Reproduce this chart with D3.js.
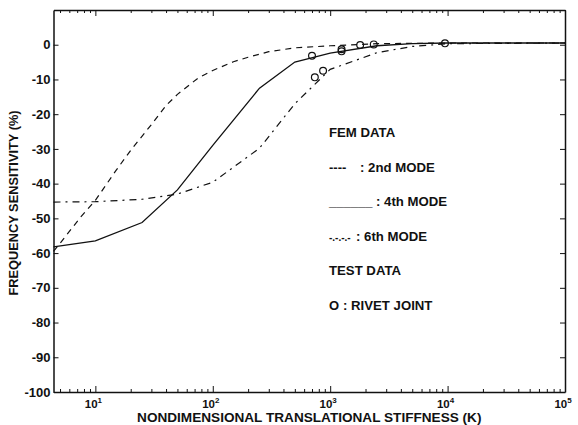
<!DOCTYPE html>
<html>
<head>
<meta charset="utf-8">
<script src="https://cdn.jsdelivr.net/npm/d3@7"></script>
<style>
  body { margin: 0; background: #fff; }
  svg text { font-family: "Liberation Sans", Arial, sans-serif; font-weight: bold; fill: #111; }
  .axis path, .axis line { stroke: #111; }
</style>
</head>
<body>
<div id="chart"></div>
<script>
// ---- data ----
// stiffness values (K) at which the FEM curves were read
const kMode2 = [4.4, 5, 7.5, 10, 15, 20, 30, 40, 50, 75, 100, 150, 200, 300, 500, 1000, 2500, 10000, 100000];
const mode2 = [-59.5, -57.2, -49.6, -44.8, -36.2, -30.4, -23, -17.5, -14.3, -9.6, -7.4, -4.9, -3.6, -2.0, -0.9, -0.3, 0.3, 0.5, 0.5];

const kFem = [4.4, 10, 25, 50, 100, 250, 500, 1000, 2500, 5000, 10000, 100000];
const mode4 = [-58.2, -56.5, -51.2, -41.8, -29, -12.5, -5, -2.4, -0.3, 0.3, 0.5, 0.5];
const mode6 = [-45.3, -45.2, -44.5, -43, -39.6, -29.8, -17, -7.1, -2.3, -0.5, 0.3, 0.5];

// rivet joint test data
const kTest = [700, 740, 870, 1250, 1250, 1800, 2350, 9500];
const rivet = [-3.2, -9.4, -7.5, -1.3, -1.9, -0.1, 0.1, 0.4];

const yTicks = [0, -10, -20, -30, -40, -50, -60, -70, -80, -90, -100];
const xMajor = [10, 100, 1000, 10000, 100000];
const xExp = ["1", "2", "3", "4", "5"];

// legend is a block of text: symbol part and label part
const legendSymbols = ["", "----", "______", "-.-.-.-", "", "O"];
const legendLabels = ["FEM DATA", ": 2nd MODE", ": 4th MODE", ": 6th MODE", "TEST DATA", ": RIVET JOINT"];
const legendLabelX = [329, 360, 376, 356, 329, 343];

// ---- layout ----
const W = 578, H = 425;
const mLeft = 53.5, mRight = 565, mTop = 10, mBottom = 392;
const ink = "#111";

const svg = d3.select("#chart").append("svg")
  .attr("width", W)
  .attr("height", H);

const x = d3.scaleLog().domain([4.4, 100000]).range([mLeft, mRight]);
const y = d3.scaleLinear().domain([-100, 10]).range([mBottom, mTop]);

// minor ticks from the log scale (2..9 in each decade)
const minor = x.ticks().filter(d => xMajor.indexOf(d) < 0);

// ---- axes ----
svg.append("g").attr("class", "axis")
  .attr("transform", "translate(0," + mBottom + ")")
  .call(d3.axisBottom(x).tickValues(minor).tickSize(-3).tickFormat(""))
  .call(g => g.select(".domain").remove());

svg.append("g").attr("class", "axis")
  .attr("transform", "translate(0," + mBottom + ")")
  .call(d3.axisBottom(x).tickValues(xMajor).tickSize(-6).tickSizeOuter(0).tickFormat(""));

svg.append("g").attr("class", "axis")
  .attr("transform", "translate(0," + mTop + ")")
  .call(d3.axisTop(x).tickValues(minor).tickSize(-3).tickFormat(""))
  .call(g => g.select(".domain").remove());

svg.append("g").attr("class", "axis")
  .attr("transform", "translate(0," + mTop + ")")
  .call(d3.axisTop(x).tickValues(xMajor).tickSize(-6).tickSizeOuter(0).tickFormat(""));

svg.append("g").attr("class", "axis")
  .attr("transform", "translate(" + mLeft + ",0)")
  .call(d3.axisLeft(y).tickValues(yTicks).tickSize(-5).tickSizeOuter(0).tickPadding(3)
    .tickFormat(d => String(d)))
  .call(g => g.selectAll("text").attr("font-size", 13).attr("fill", ink));

svg.append("g").attr("class", "axis")
  .attr("transform", "translate(" + mRight + ",0)")
  .call(d3.axisRight(y).tickValues(yTicks).tickSize(-5).tickSizeOuter(0).tickFormat(""));

svg.selectAll(".axis .domain").attr("stroke-width", 1.5);

// x tick labels as 10 with superscript exponent
const xl = svg.append("g");
xMajor.forEach((v, i) => {
  const t = xl.append("text")
    .attr("x", x(v) - 2)
    .attr("y", mBottom + 16)
    .attr("text-anchor", "middle")
    .attr("font-size", 11.5);
  t.append("tspan").text("10");
  t.append("tspan").attr("font-size", 8).attr("dy", -5).text(xExp[i]);
});

// axis titles
svg.append("text")
  .attr("x", (mLeft + mRight) / 2)
  .attr("y", 422)
  .attr("text-anchor", "middle")
  .attr("font-size", 13.6)
  .text("NONDIMENSIONAL TRANSLATIONAL STIFFNESS (K)");

svg.append("text")
  .attr("transform", "translate(18," + ((mTop + mBottom) / 2 + 2) + ") rotate(-90)")
  .attr("text-anchor", "middle")
  .attr("font-size", 12.8)
  .text("FREQUENCY SENSITIVITY (%)");

// ---- curves ----
const line = d3.line()
  .x(d => x(d[0]))
  .y(d => y(d[1]));

svg.append("path")
  .datum(kMode2.map((k, i) => [k, mode2[i]]))
  .attr("d", line)
  .attr("fill", "none").attr("stroke", ink).attr("stroke-width", 1.2)
  .attr("stroke-dasharray", "6,5");

svg.append("path")
  .datum(kFem.map((k, i) => [k, mode6[i]]))
  .attr("d", line)
  .attr("fill", "none").attr("stroke", ink).attr("stroke-width", 1.2)
  .attr("stroke-dasharray", "7,5,2,5");

svg.append("path")
  .datum(kFem.map((k, i) => [k, mode4[i]]))
  .attr("d", line)
  .attr("fill", "none").attr("stroke", ink).attr("stroke-width", 1.3);

svg.selectAll("circle.rivet")
  .data(kTest.map((k, i) => [k, rivet[i]]))
  .enter().append("circle")
  .attr("class", "rivet")
  .attr("cx", d => x(d[0]))
  .attr("cy", d => y(d[1]))
  .attr("r", 3.4)
  .attr("fill", "none")
  .attr("stroke", ink)
  .attr("stroke-width", 1.2);

// ---- legend (text block inside plot) ----
const lg = svg.append("g");
legendLabels.forEach((lab, i) => {
  const ly = 137 + i * 34.5;
  if (legendSymbols[i]) {
    lg.append("text")
      .attr("x", 329).attr("y", ly)
      .attr("font-size", i === 3 ? 10 : 13)
      .text(legendSymbols[i]);
  }
  lg.append("text")
    .attr("x", legendLabelX[i]).attr("y", ly)
    .attr("font-size", 13.2)
    .text(lab);
});
</script>
</body>
</html>
